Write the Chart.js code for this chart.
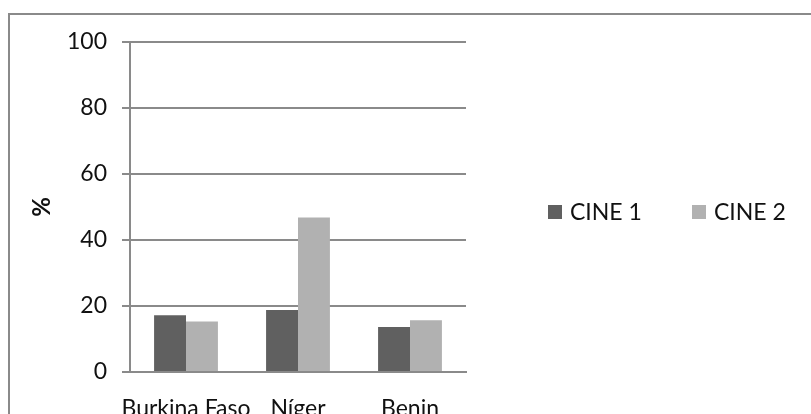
<!DOCTYPE html>
<html>
<head>
<meta charset="utf-8">
<script src="https://cdn.jsdelivr.net/npm/chart.js@4/dist/chart.umd.min.js"></script>
<style>
  html, body { margin: 0; padding: 0; background: #fff; overflow: hidden; }
  #wrap { width: 811px; height: 414px; }
</style>
</head>
<body>
<div id="wrap"><canvas id="myChart" width="811" height="414"></canvas></div>
<script>
const countries = ['Burkina Faso', 'Níger', 'Benin'];
const cine1 = [17.2, 18.8, 13.6];
const cine2 = [15.3, 46.8, 15.7];
const yTicks = [0, 20, 40, 60, 80, 100];

const FONT = "Lato, 'Liberation Sans', sans-serif";
const GRID = '#8a8a8a';

// outer frame of the picture, cut by the right and bottom edges
const framePlugin = {
  id: 'frame',
  beforeDraw(chart) {
    const ctx = chart.ctx;
    ctx.save();
    ctx.strokeStyle = GRID;
    ctx.lineWidth = 2;
    ctx.strokeRect(9, 14, chart.width + 20, chart.height + 20);
    ctx.restore();
  }
};

// legend laid out in one row, to the right of the plot
const rowLegend = {
  id: 'rowLegend',
  afterDraw(chart) {
    const ctx = chart.ctx;
    ctx.save();
    ctx.font = '23px ' + FONT;
    ctx.textBaseline = 'middle';
    let x = 548;
    const y = 212;
    chart.data.datasets.forEach((ds) => {
      ctx.fillStyle = ds.backgroundColor;
      ctx.fillRect(x, y - 7, 14, 14);
      ctx.fillStyle = '#111';
      ctx.fillText(ds.label, x + 22, y + 1);
      x += 144;
    });
    ctx.restore();
  }
};

const ctx = document.getElementById('myChart').getContext('2d');
const myChart = new Chart(ctx, {
  type: 'bar',
  data: {
    labels: countries,
    datasets: [
      { label: 'CINE 1', data: cine1, backgroundColor: '#606060' },
      { label: 'CINE 2', data: cine2, backgroundColor: '#b1b1b1' }
    ]
  },
  options: {
    responsive: false,
    animation: false,
    layout: { padding: { left: 28, right: 345, top: 42, bottom: 0 } },
    datasets: { bar: { categoryPercentage: 0.57, barPercentage: 1 } },
    plugins: {
      legend: { display: false },
      tooltip: { enabled: false }
    },
    scales: {
      x: {
        grid: { display: false },
        border: { display: true, color: GRID, width: 2 },
        ticks: { color: '#111', font: { family: FONT, size: 23 }, padding: 15, maxRotation: 0, autoSkip: false },
        afterFit(scale) { scale.height = 42; }
      },
      y: {
        min: 0,
        max: 100,
        afterBuildTicks(scale) { scale.ticks = yTicks.map(v => ({ value: v })); },
        grid: { color: GRID, lineWidth: 2, tickLength: 8 },
        border: { display: true, color: GRID, width: 2 },
        ticks: { color: '#111', font: { family: FONT, size: 23 }, padding: 15 },
        title: {
          display: true,
          text: '%',
          color: '#111',
          font: { family: FONT, size: 24, weight: 'bold' },
          padding: { top: 0, bottom: 0 }
        },
        afterFit(scale) { scale.width = 102; }
      }
    }
  },
  plugins: [framePlugin, rowLegend]
});
</script>
</body>
</html>
